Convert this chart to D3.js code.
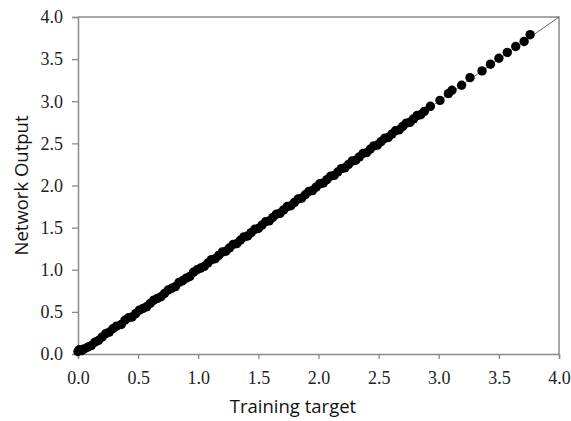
<!DOCTYPE html>
<html>
<head>
<meta charset="utf-8">
<script src="https://cdn.jsdelivr.net/npm/d3@7"></script>
<style>
  body { margin: 0; background: #fff; }
  .tick text { font-family: "Liberation Serif", "Times New Roman", serif; font-size: 18px; fill: #222; }
  .title { font-family: "Open Sans", "Noto Sans", sans-serif; font-size: 18.5px; fill: #111; }
</style>
</head>
<body>
<div id="chart"></div>
<script>
// training targets and network outputs
const target = [0.00, 0.01, 0.03, 0.05, 0.08, 0.11, 0.14, 0.17, 0.20, 0.23, 0.26, 0.29, 0.32, 0.36, 0.39,
  0.42, 0.45, 0.48, 0.51, 0.54, 0.57, 0.60, 0.63, 0.66, 0.69, 0.72, 0.75, 0.78, 0.81, 0.84,
  0.87, 0.90, 0.93, 0.96, 0.99, 1.02, 1.05, 1.08, 1.11, 1.14, 1.17, 1.20, 1.23, 1.26, 1.29,
  1.32, 1.35, 1.38, 1.41, 1.44, 1.47, 1.50, 1.53, 1.56, 1.59, 1.62, 1.65, 1.68, 1.71, 1.74,
  1.77, 1.80, 1.83, 1.86, 1.89, 1.92, 1.95, 1.98, 2.01, 2.04, 2.07, 2.10, 2.13, 2.16, 2.19,
  2.22, 2.25, 2.28, 2.31, 2.34, 2.37, 2.40, 2.43, 2.46, 2.49, 2.52, 2.55, 2.58, 2.61, 2.64,
  2.67, 2.70, 2.73, 2.76, 2.79, 2.82, 2.85, 2.88, 2.93, 3.01, 3.08, 3.11, 3.19, 3.26, 3.36,
  3.43, 3.50, 3.57, 3.64, 3.71, 3.76];
const output = [0.03, 0.05, 0.04, 0.06, 0.08, 0.10, 0.14, 0.16, 0.20, 0.24, 0.26, 0.30, 0.33, 0.35, 0.40,
  0.43, 0.44, 0.48, 0.52, 0.54, 0.56, 0.60, 0.64, 0.66, 0.68, 0.72, 0.76, 0.78, 0.80, 0.85,
  0.87, 0.90, 0.92, 0.97, 1.00, 1.02, 1.04, 1.08, 1.12, 1.13, 1.17, 1.21, 1.22, 1.26, 1.30,
  1.31, 1.35, 1.39, 1.40, 1.44, 1.48, 1.49, 1.53, 1.57, 1.58, 1.62, 1.66, 1.67, 1.71, 1.75,
  1.76, 1.80, 1.84, 1.85, 1.89, 1.93, 1.94, 1.98, 2.02, 2.03, 2.07, 2.11, 2.12, 2.16, 2.20,
  2.21, 2.25, 2.29, 2.30, 2.34, 2.38, 2.39, 2.43, 2.47, 2.48, 2.52, 2.56, 2.57, 2.61, 2.65,
  2.66, 2.70, 2.74, 2.75, 2.79, 2.83, 2.84, 2.88, 2.94, 3.01, 3.09, 3.13, 3.19, 3.28, 3.36,
  3.44, 3.51, 3.58, 3.65, 3.71, 3.79];
const ticks = [0, 0.5, 1.0, 1.5, 2.0, 2.5, 3.0, 3.5, 4.0];

const width = 571, height = 421;
const margin = { top: 17, right: 12, bottom: 67, left: 78 };
const frame = '#8a8a8a';

const svg = d3.select('#chart').append('svg')
  .attr('width', width)
  .attr('height', height);

const x = d3.scaleLinear().domain([0, 4]).range([margin.left, width - margin.right]);
const y = d3.scaleLinear().domain([0, 4]).range([height - margin.bottom, margin.top]);

// frame on top and right
svg.append('path')
  .attr('d', `M${x(0)},${y(4)}H${x(4)}V${y(0)}`)
  .attr('fill', 'none')
  .attr('stroke', frame)
  .attr('stroke-width', 1.5);

const xAxis = svg.append('g')
  .attr('transform', `translate(0,${y(0)})`)
  .call(d3.axisBottom(x).tickValues(ticks).tickFormat(d3.format('.1f')).tickSizeOuter(0).tickSize(5).tickPadding(12));
const yAxis = svg.append('g')
  .attr('transform', `translate(${x(0)},0)`)
  .call(d3.axisLeft(y).tickValues(ticks).tickFormat(d3.format('.1f')).tickSizeOuter(0).tickSize(6).tickPadding(9));

[xAxis, yAxis].forEach(g => {
  g.attr('font-family', null).attr('font-size', null);
  g.select('.domain').attr('stroke', frame).attr('stroke-width', 1.5);
  g.selectAll('.tick line').attr('stroke', frame).attr('stroke-width', 1.3);
});

// 1:1 line
svg.append('line')
  .attr('x1', x(0)).attr('y1', y(0))
  .attr('x2', x(4)).attr('y2', y(4))
  .attr('stroke', '#444')
  .attr('stroke-width', 0.8);

svg.append('g').selectAll('circle')
  .data(target.map((t, i) => ({ t, o: output[i] })))
  .join('circle')
  .attr('cx', d => x(d.t))
  .attr('cy', d => y(d.o))
  .attr('r', 4.7)
  .attr('fill', '#000');

svg.append('text')
  .attr('class', 'title')
  .attr('x', 293).attr('y', 413)
  .attr('text-anchor', 'middle')
  .text('Training target');

svg.append('text')
  .attr('class', 'title')
  .attr('transform', `translate(28,${(y(0) + y(4)) / 2}) rotate(-90)`)
  .attr('text-anchor', 'middle')
  .text('Network Output');
</script>
</body>
</html>
